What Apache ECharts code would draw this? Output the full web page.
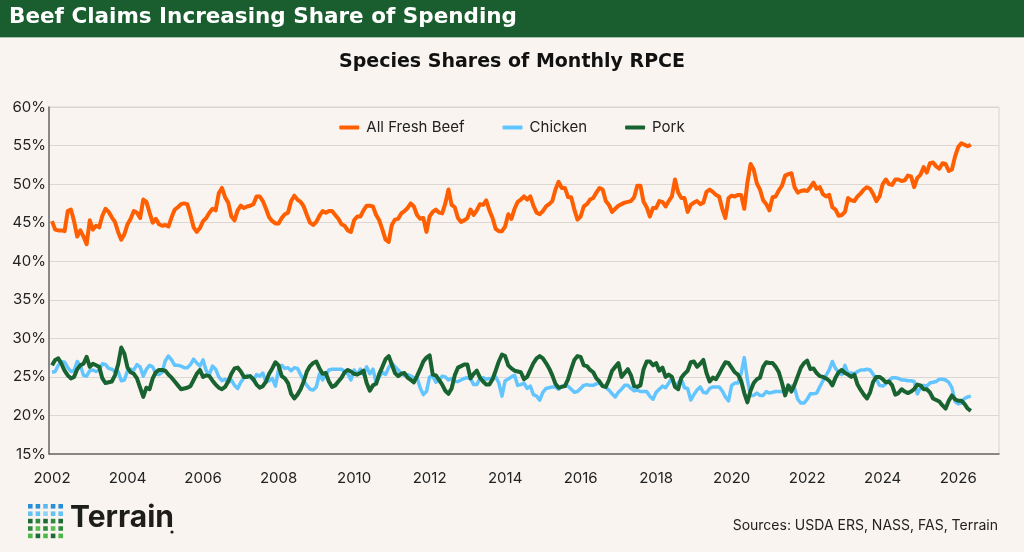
<!DOCTYPE html>
<html>
<head>
<meta charset="UTF-8" />
<title>Beef Claims Increasing Share of Spending</title>
<script src="https://cdn.jsdelivr.net/npm/echarts@6/dist/echarts.min.js"></script>
<style>
  html, body { margin: 0; padding: 0; background: #f9f4f0; }
  #main { width: 1024px; height: 552px; }
</style>
</head>
<body>
<div id="main"></div>
<script type="text/javascript">

// first month of the series (Jan 2002), one value per month
var startYear = 2002;

// year labels on the x axis
var xTickLabels = [2002, 2004, 2006, 2008, 2010, 2012, 2014, 2016, 2018, 2020, 2022, 2024, 2026];

// y axis ticks (percent)
var yTicks = [15, 20, 25, 30, 35, 40, 45, 50, 55, 60];

var seriesNames = ['All Fresh Beef', 'Chicken', 'Pork'];

// All Fresh Beef share (%), monthly, one row per year
var beef = [
  45.2, 44.1, 44.0, 44.0, 43.9, 46.5, 46.7, 45.2, 43.2, 44.0, 43.2, 42.2,
  45.3, 44.1, 44.6, 44.4, 45.9, 46.8, 46.4, 45.7, 45.1, 43.8, 42.8, 43.5,
  44.8, 45.5, 46.5, 46.3, 45.6, 48.0, 47.7, 46.3, 45.0, 45.5, 44.8, 44.6,
  44.7, 44.5, 45.7, 46.7, 47.0, 47.4, 47.5, 47.4, 46.0, 44.4, 43.8, 44.3,
  45.2, 45.6, 46.3, 46.8, 46.6, 48.8, 49.5, 48.3, 47.6, 45.8, 45.3, 46.6,
  47.2, 46.9, 47.1, 47.2, 47.4, 48.4, 48.4, 47.8, 46.8, 45.7, 45.2, 44.9,
  44.9, 45.6, 46.1, 46.3, 47.8, 48.5, 48.0, 47.7, 47.1, 46.0, 45.0, 44.7,
  45.1, 45.9, 46.5, 46.3, 46.5, 46.5, 46.0, 45.5, 44.8, 44.6, 44.0, 43.8,
  45.3, 45.8, 45.8, 46.6, 47.2, 47.2, 47.1, 46.0, 45.3, 44.1, 42.8, 42.5,
  44.7, 45.4, 45.5, 46.2, 46.5, 46.9, 47.5, 47.1, 46.0, 45.5, 45.6, 43.8,
  45.8, 46.4, 46.7, 46.3, 46.2, 47.5, 49.3, 47.3, 47.0, 45.6, 45.1, 45.3,
  45.6, 46.7, 46.0, 46.6, 47.4, 47.3, 47.9, 46.6, 45.6, 44.2, 43.9, 43.9,
  44.5, 46.1, 45.5, 46.8, 47.7, 48.0, 48.4, 48.0, 48.4, 47.2, 46.3, 46.1,
  46.5, 47.1, 47.4, 47.8, 49.3, 50.3, 49.5, 49.5, 48.3, 48.3, 46.7, 45.4,
  45.8, 47.1, 47.4, 48.0, 48.2, 48.9, 49.5, 49.3, 47.8, 47.3, 46.4, 46.8,
  47.2, 47.4, 47.6, 47.7, 47.8, 48.3, 49.8, 49.8, 47.7, 47.0, 45.8, 46.9,
  46.9, 47.8, 47.7, 47.1, 47.8, 48.4, 50.6, 48.9, 48.2, 48.2, 46.4, 47.3,
  47.6, 47.8, 47.4, 47.6, 49.0, 49.3, 49.0, 48.6, 48.4, 46.8, 45.6, 48.2,
  48.5, 48.4, 48.6, 48.6, 46.8, 50.2, 52.6, 51.9, 50.1, 49.3, 47.9, 47.4,
  46.6, 48.3, 48.4, 49.2, 49.8, 51.1, 51.3, 51.4, 49.6, 48.9, 49.1, 49.2,
  49.1, 49.6, 50.2, 49.4, 49.6, 48.7, 48.4, 48.6, 47.0, 46.7, 45.9, 46.0,
  46.4, 48.2, 47.9, 47.8, 48.4, 48.8, 49.3, 49.6, 49.4, 48.7, 47.8, 48.4,
  50.0, 50.6, 50.0, 49.9, 50.6, 50.6, 50.4, 50.5, 51.1, 51.0, 49.6, 50.8,
  51.2, 52.2, 51.5, 52.7, 52.8, 52.3, 52.0, 52.7, 52.6, 51.7, 51.9, 53.6,
  54.8, 55.3, 55.1, 54.9, 55.1
];

// Chicken share (%), monthly
var chicken = [
  25.6, 25.7, 26.5, 27.0, 26.9, 26.2, 25.7, 25.8, 27.0, 26.5, 25.2, 25.1,
  25.8, 25.9, 25.7, 25.9, 26.7, 26.6, 26.1, 26.0, 25.7, 25.7, 24.5, 24.6,
  25.8, 26.0, 25.9, 26.6, 26.3, 25.1, 26.0, 26.5, 26.3, 25.4, 25.3, 25.6,
  27.1, 27.7, 27.2, 26.5, 26.5, 26.4, 26.2, 26.2, 26.6, 27.3, 26.8, 26.4,
  27.2, 25.8, 25.3, 26.4, 26.0, 25.0, 24.5, 24.7, 24.3, 24.6, 23.9, 23.5,
  24.3, 24.9, 25.2, 25.0, 24.5, 25.3, 25.1, 25.5, 24.3, 24.5, 24.8, 23.8,
  26.0, 26.5, 26.1, 26.2, 25.8, 26.2, 26.1, 25.3, 24.5, 23.9, 23.4, 23.3,
  23.7, 25.4, 24.6, 25.3, 25.9, 26.0, 26.0, 26.0, 26.0, 25.7, 25.4, 24.6,
  25.9, 25.3, 26.0, 25.3, 26.3, 25.4, 26.0, 24.2, 25.0, 25.6, 25.3, 26.2,
  26.8, 26.3, 25.9, 25.4, 25.2, 25.3, 25.1, 24.9, 24.9, 23.6, 22.7, 23.1,
  25.0, 25.1, 24.3, 24.5, 25.1, 25.0, 24.6, 24.8, 24.4, 24.4, 24.6, 24.8,
  24.9, 24.8, 24.0, 24.0, 24.8, 24.9, 24.7, 24.8, 24.7, 25.0, 24.2, 22.5,
  24.5, 24.7, 25.0, 25.2, 23.9, 24.0, 24.2, 23.5, 23.8, 22.7, 22.5, 22.0,
  23.0, 23.5, 23.6, 23.7, 23.7, 23.4, 23.8, 23.9, 23.8, 23.4, 23.0, 23.1,
  23.5, 23.9, 24.0, 23.9, 23.9, 24.1, 24.2, 23.8, 23.6, 23.3, 22.8, 22.4,
  23.0, 23.4, 23.9, 23.9, 23.5, 23.2, 23.3, 23.1, 23.1, 23.1, 22.5, 22.1,
  23.0, 23.4, 23.8, 23.6, 24.2, 24.9, 23.7, 24.2, 24.7, 23.6, 23.5, 22.0,
  22.7, 23.3, 23.7, 23.0, 22.9, 23.5, 23.7, 23.7, 23.7, 23.2, 22.4, 21.9,
  23.9, 24.2, 24.2, 25.4, 27.5, 24.6, 22.6, 22.6, 22.9, 22.6, 22.6, 23.1,
  22.9, 23.0, 23.1, 23.1, 23.1, 23.0, 23.4, 23.8, 23.5, 22.1, 21.6, 21.6,
  22.1, 22.8, 22.8, 22.9, 23.7, 24.5, 25.2, 25.9, 27.0, 26.1, 25.6, 25.3,
  26.5, 25.4, 25.5, 25.4, 25.7, 25.9, 25.9, 26.0, 25.9, 25.3, 24.7, 23.9,
  23.8, 24.1, 24.5, 24.9, 24.9, 24.8, 24.6, 24.6, 24.5, 24.5, 24.4, 22.8,
  23.6, 23.9, 23.8, 24.2, 24.3, 24.4, 24.7, 24.7, 24.6, 24.3, 23.6, 21.8,
  21.5, 21.6, 22.2, 22.4, 22.5
];

// Pork share (%), monthly
var pork = [
  26.5, 27.2, 27.4, 26.7, 25.8, 25.2, 24.8, 25.0, 26.0, 26.5, 26.7, 27.6,
  26.3, 26.7, 26.5, 26.3, 24.8, 24.2, 24.3, 24.4, 25.2, 26.6, 28.8, 28.0,
  26.2, 25.6, 25.4, 24.8, 23.6, 22.4, 23.6, 23.4, 24.8, 25.6, 25.9, 25.9,
  25.8, 25.3, 24.9, 24.4, 23.9, 23.4, 23.5, 23.6, 23.8, 24.6, 25.4, 25.9,
  25.0, 25.2, 25.1, 24.5, 24.0, 23.6, 23.4, 23.7, 24.4, 25.4, 26.1, 26.2,
  25.7, 25.0, 25.0, 25.1, 24.7, 24.0, 23.6, 23.8, 24.4, 25.4, 26.1, 26.9,
  26.5, 25.1, 24.8, 24.2, 22.8, 22.2, 22.7, 23.4, 24.4, 25.7, 26.4, 26.8,
  27.0, 26.1, 25.4, 25.5, 24.4, 23.7, 23.9, 24.4, 24.9, 25.6, 25.9, 25.7,
  25.4, 25.3, 25.5, 25.8, 24.2, 23.2, 23.9, 24.1, 25.4, 26.3, 27.3, 27.7,
  26.6, 25.5, 25.1, 25.4, 25.5, 24.9, 24.6, 24.3, 25.1, 26.0, 27.0, 27.5,
  27.8, 25.3, 25.2, 24.6, 24.0, 23.2, 22.8, 23.5, 25.2, 26.2, 26.4, 26.6,
  26.6, 24.8, 25.4, 25.8, 24.9, 24.4, 24.0, 24.0, 24.7, 25.8, 27.0, 27.9,
  27.7, 26.5, 26.1, 25.8, 25.7, 25.6, 24.7, 25.0, 25.9, 26.8, 27.4, 27.7,
  27.4, 26.8, 26.1, 25.2, 24.1, 23.6, 23.7, 23.8, 24.7, 26.0, 27.2, 27.7,
  27.6, 26.5, 26.4, 25.9, 25.6, 24.8, 24.4, 23.8, 23.7, 24.6, 25.8, 26.3,
  26.8, 25.0, 25.5, 26.0, 25.2, 23.8, 23.7, 23.9, 26.0, 27.0, 27.0, 26.5,
  26.8, 25.8, 26.2, 25.0, 25.3, 25.0, 23.7, 23.4, 24.9, 25.4, 25.8, 26.9,
  27.0, 26.3, 26.7, 27.2, 25.5, 24.4, 24.9, 24.7, 25.4, 26.2, 26.9, 26.8,
  26.2, 25.6, 25.3, 24.5, 22.9, 21.7, 23.2, 24.2, 24.7, 24.9, 26.3, 26.9,
  26.8, 26.8, 26.3, 25.6, 24.2, 22.6, 23.9, 23.1, 24.0, 25.1, 26.2, 26.8,
  27.1, 26.0, 26.1, 25.5, 25.1, 25.0, 24.8, 24.5, 23.9, 24.9, 25.6, 25.9,
  25.5, 25.3, 25.0, 25.3, 24.0, 23.3, 22.7, 22.2, 23.0, 24.4, 25.0, 25.0,
  24.7, 24.3, 24.4, 23.9, 22.7, 22.9, 23.4, 23.1, 22.9, 23.1, 23.4, 24.0,
  23.9, 23.4, 23.4, 23.0, 22.2, 22.0, 21.8, 21.3, 20.9, 21.9, 22.6, 22.1,
  21.9, 21.9, 21.5, 20.9, 20.6
];

var colors = ['#ff5f00', '#63c5ff', '#186330'];

// month index -> decimal year, for the value x axis
function toPoints(values) {
  var pts = [];
  for (var i = 0; i < values.length; i++) {
    pts.push([startYear + i / 12, values[i]]);
  }
  return pts;
}

// Terrain logo: 5x5 grid of small squares
function logoSquares() {
  var rowColors = [
    ['#2b8fd8', '#2b8fd8', '#5cb9f0', '#2b8fd8', '#2b8fd8'],
    ['#66c2f3', '#66c2f3', '#8fd2f6', '#66c2f3', '#66c2f3'],
    ['#1e6a36', '#2f8a3e', '#1e6a36', '#2f8a3e', '#1e6a36'],
    ['#2f8a3e', '#5bbd4e', '#2f8a3e', '#5bbd4e', '#2f8a3e'],
    ['#4db848', '#1e6a36', '#4db848', '#1e6a36', '#4db848']
  ];
  var out = [];
  for (var r = 0; r < 5; r++) {
    for (var c = 0; c < 5; c++) {
      out.push({
        type: 'rect',
        shape: { x: 28 + c * 7.6, y: 504 + r * 7.4, width: 4.6, height: 4.6 },
        style: { fill: rowColors[r][c] }
      });
    }
  }
  return out;
}

var fontFam = 'Inter, "Noto Sans", sans-serif';
var headFam = '"DejaVu Sans", Inter, sans-serif';

var option = {
  backgroundColor: '#f9f4f0',
  animation: false,
  color: colors,
  grid: {
    left: 49,
    right: 25,
    top: 107,
    bottom: 98,
    show: true,
    borderColor: '#d8d3cf',
    borderWidth: 1,
    backgroundColor: 'transparent'
  },
  legend: {
    data: seriesNames,
    top: 115,
    left: 'center',
    icon: 'roundRect',
    itemWidth: 20,
    itemHeight: 4,
    itemGap: 38,
    textStyle: { fontFamily: fontFam, fontSize: 15, color: '#222', padding: [0, 0, 0, 2] }
  },
  xAxis: {
    type: 'value',
    min: 2001.92,
    max: 2027.08,
    axisLine: { show: true, lineStyle: { color: '#6b6b6b', width: 1.5 } },
    axisTick: { show: false },
    splitLine: { show: false },
    axisLabel: {
      customValues: xTickLabels,
      formatter: function (v) { return String(Math.round(v)); },
      fontFamily: fontFam,
      fontSize: 15,
      color: '#222',
      margin: 17
    }
  },
  yAxis: {
    type: 'value',
    min: yTicks[0],
    max: yTicks[yTicks.length - 1],
    interval: 5,
    axisLine: { show: true, lineStyle: { color: '#6b6b6b', width: 1.5 } },
    axisTick: { show: false },
    splitLine: { show: true, lineStyle: { color: '#dcd7d3', width: 1 } },
    axisLabel: {
      formatter: '{value}%',
      fontFamily: fontFam,
      fontSize: 15,
      color: '#222',
      margin: 3
    }
  },
  series: [
    {
      name: seriesNames[0],
      type: 'line',
      data: toPoints(beef),
      showSymbol: false,
      symbol: 'none',
      lineStyle: { width: 4, color: colors[0], join: 'round' },
      itemStyle: { color: colors[0] },
      z: 3
    },
    {
      name: seriesNames[1],
      type: 'line',
      data: toPoints(chicken),
      showSymbol: false,
      symbol: 'none',
      lineStyle: { width: 3.5, color: colors[1], join: 'round' },
      itemStyle: { color: colors[1] },
      z: 2
    },
    {
      name: seriesNames[2],
      type: 'line',
      data: toPoints(pork),
      showSymbol: false,
      symbol: 'none',
      lineStyle: { width: 4, color: colors[2], join: 'round' },
      itemStyle: { color: colors[2] },
      z: 4
    }
  ],
  graphic: [
    {
      type: 'rect',
      shape: { x: 0, y: 0, width: 1024, height: 37 },
      style: { fill: '#1a5e30' },
      z: 10
    },
    {
      type: 'rect',
      shape: { x: 0, y: 37, width: 1024, height: 1 },
      style: { fill: '#a7c2ad' },
      z: 10
    },
    {
      type: 'text',
      left: 9,
      top: 6,
      z: 11,
      style: {
        text: 'Beef Claims Increasing Share of Spending',
        fill: '#ffffff',
        font: '700 21.5px ' + headFam
      }
    },
    {
      type: 'text',
      left: 'center',
      top: 53,
      z: 11,
      style: {
        text: 'Species Shares of Monthly RPCE',
        fill: '#111111',
        font: '700 19px ' + headFam
      }
    },
    {
      type: 'group',
      children: logoSquares()
    },
    {
      type: 'text',
      left: 70,
      top: 503,
      style: {
        text: 'Terrain',
        fill: '#1d1d1b',
        font: '700 30px ' + fontFam
      }
    },
    {
      type: 'circle',
      shape: { cx: 172, cy: 532, r: 1.6 },
      style: { fill: '#1d1d1b' }
    },
    {
      type: 'text',
      right: 26,
      top: 519,
      style: {
        text: 'Sources: USDA ERS, NASS, FAS, Terrain',
        fill: '#222',
        font: '14px ' + fontFam
      }
    }
  ]
};

var myChart = echarts.init(document.getElementById('main'), null, { renderer: 'canvas' });
myChart.setOption(option);
</script>
</body>
</html>
